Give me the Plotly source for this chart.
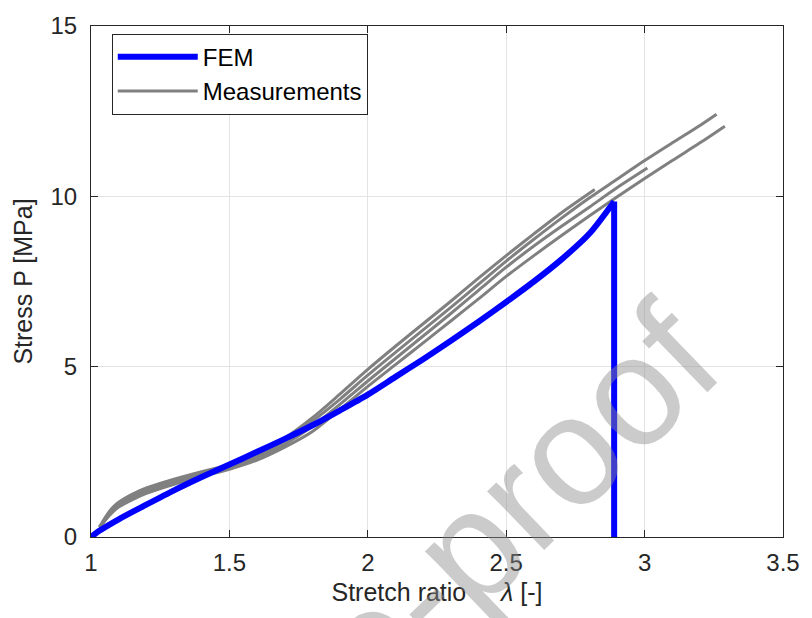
import plotly.graph_objects as go

# FEM curve (stretch ratio, stress)
fem_x = [1.0, 1.03, 1.1, 1.2, 1.3, 1.4, 1.5, 1.6, 1.7, 1.8, 1.9, 2.0, 2.1, 2.2,
         2.3, 2.4, 2.5, 2.6, 2.7, 2.8, 2.89]
fem_y = [0.0, 0.18, 0.52, 0.95, 1.37, 1.76, 2.13, 2.5, 2.88, 3.28, 3.72, 4.18,
         4.7, 5.22, 5.76, 6.32, 6.9, 7.5, 8.15, 8.9, 9.85]
# failure drop of the FEM curve
fem_drop_x = [2.89, 2.89]
fem_drop_y = [9.85, 0.0]

# Measurements (four specimens)
mA_x = [1.04, 1.06, 1.08, 1.10, 1.15, 1.2, 1.3, 1.4, 1.5, 1.6, 1.7, 1.8, 1.9, 2.0,
        2.1, 2.2, 2.3, 2.4, 2.5, 2.6, 2.7, 2.82]
mA_y = [0.42, 0.68, 0.88, 1.02, 1.26, 1.44, 1.70, 1.92, 2.12, 2.42, 2.9, 3.5, 4.2,
        4.92, 5.6, 6.26, 6.92, 7.6, 8.26, 8.9, 9.52, 10.2]

mB_x = [1.03, 1.05, 1.08, 1.10, 1.15, 1.2, 1.3, 1.4, 1.5, 1.6, 1.7, 1.8, 1.9, 2.0,
        2.1, 2.2, 2.3, 2.4, 2.5, 2.6, 2.7, 2.8, 2.9, 3.01]
mB_y = [0.30, 0.52, 0.78, 0.92, 1.15, 1.33, 1.60, 1.83, 2.03, 2.31, 2.72, 3.25,
        3.9, 4.58, 5.24, 5.9, 6.56, 7.24, 7.92, 8.54, 9.12, 9.68, 10.25, 10.83]

mC_x = [1.04, 1.06, 1.08, 1.10, 1.15, 1.2, 1.3, 1.4, 1.5, 1.6, 1.7, 1.8, 1.9, 2.0,
        2.1, 2.2, 2.3, 2.4, 2.5, 2.6, 2.7, 2.8, 2.9, 3.0, 3.1, 3.2, 3.26]
mC_y = [0.36, 0.60, 0.80, 0.96, 1.20, 1.38, 1.64, 1.86, 2.08, 2.37, 2.82, 3.4,
        4.05, 4.75, 5.42, 6.08, 6.74, 7.42, 8.1, 8.74, 9.36, 9.95, 10.5, 11.05,
        11.57, 12.08, 12.41]

mD_x = [1.03, 1.05, 1.08, 1.10, 1.15, 1.2, 1.3, 1.4, 1.5, 1.6, 1.7, 1.8, 1.9, 2.0,
        2.1, 2.2, 2.3, 2.4, 2.5, 2.6, 2.7, 2.8, 2.9, 3.0, 3.1, 3.2, 3.29]
mD_y = [0.28, 0.48, 0.74, 0.88, 1.10, 1.28, 1.55, 1.78, 1.99, 2.26, 2.64, 3.1,
        3.75, 4.42, 5.06, 5.7, 6.34, 6.99, 7.65, 8.26, 8.85, 9.42, 9.98, 10.52,
        11.05, 11.57, 12.06]

x_ticks = [1, 1.5, 2, 2.5, 3, 3.5]
x_ticktext = ["1", "1.5", "2", "2.5", "3", "3.5"]
y_ticks = [0, 5, 10, 15]
y_ticktext = ["0", "5", "10", "15"]

FONT = "Liberation Sans, Arial, Helvetica, sans-serif"
AX = "#262626"
GRAY = "#808080"
BLUE = "#0000ff"

fig = go.Figure()

measurements = [(mA_x, mA_y), (mB_x, mB_y), (mC_x, mC_y), (mD_x, mD_y)]
for i, (mx, my) in enumerate(measurements):
    fig.add_trace(go.Scatter(
        x=mx, y=my, mode="lines", name="Measurements",
        line=dict(color=GRAY, width=3, shape="spline", smoothing=0.8),
        legendgroup="meas", showlegend=(i == 0), legendrank=2,
    ))

fig.add_trace(go.Scatter(
    x=fem_x, y=fem_y, mode="lines", name="FEM",
    line=dict(color=BLUE, width=6, shape="spline", smoothing=0.8),
    cliponaxis=False, legendgroup="fem", legendrank=1,
))
fig.add_trace(go.Scatter(
    x=fem_drop_x, y=fem_drop_y, mode="lines", name="FEM",
    line=dict(color=BLUE, width=6), cliponaxis=False,
    legendgroup="fem", showlegend=False,
))

axis_common = dict(
    showline=True, linecolor=AX, linewidth=1, mirror="ticks",
    ticks="inside", ticklen=7, tickwidth=1, tickcolor=AX,
    showgrid=True, gridcolor="#e3e3e3", gridwidth=1,
    zeroline=False,
    tickfont=dict(family=FONT, size=24, color=AX),
)

fig.update_xaxes(
    range=[1, 3.5], tickvals=x_ticks, ticktext=x_ticktext,
    ticklabelstandoff=4,
    title=dict(text="Stretch ratio\u00a0\u00a0\u00a0\u00a0\u00a0<i>λ</i> [-]",
               font=dict(family=FONT, size=25, color=AX), standoff=8),
    **axis_common,
)
fig.update_yaxes(
    range=[0, 15], tickvals=y_ticks, ticktext=y_ticktext,
    ticklabelstandoff=8,
    title=dict(text="Stress P [MPa]",
               font=dict(family=FONT, size=25, color=AX), standoff=10),
    **axis_common,
)

fig.add_annotation(
    text="Journal Pre-proof", xref="paper", yref="paper",
    x=0.245, y=-0.416, xanchor="center", yanchor="middle",
    textangle=-44, showarrow=False,
    font=dict(family=FONT, size=155, color="rgba(140,140,140,0.45)"),
)

fig.update_layout(
    width=812, height=618,
    margin=dict(l=91, r=19, t=15, b=81, pad=0),
    paper_bgcolor="white", plot_bgcolor="white",
    font=dict(family=FONT, color=AX),
    legend=dict(
        x=0.03, y=0.985, xanchor="left", yanchor="top",
        bgcolor="white", bordercolor=AX, borderwidth=1,
        font=dict(family=FONT, size=24, color="#000000"),
        tracegroupgap=0, itemwidth=80,
    ),
)

fig.write_html("out.html")
